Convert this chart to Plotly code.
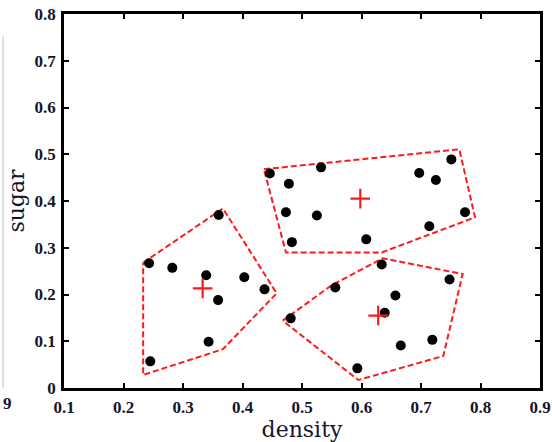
import plotly.graph_objects as go

# ---- data: watermelon 4.0 (density, sugar) by cluster ----
clusterA_density = [0.403, 0.437, 0.243, 0.245, 0.343, 0.360, 0.359, 0.339, 0.282]
clusterA_sugar   = [0.237, 0.211, 0.267, 0.057, 0.099, 0.370, 0.188, 0.241, 0.257]

clusterB_density = [0.697, 0.774, 0.608, 0.714, 0.483, 0.478, 0.525, 0.751, 0.532, 0.473, 0.725, 0.446]
clusterB_sugar   = [0.460, 0.376, 0.318, 0.346, 0.312, 0.437, 0.369, 0.489, 0.472, 0.376, 0.445, 0.459]

clusterC_density = [0.634, 0.556, 0.481, 0.666, 0.639, 0.657, 0.593, 0.719, 0.748]
clusterC_sugar   = [0.264, 0.215, 0.149, 0.091, 0.161, 0.198, 0.042, 0.103, 0.232]

centroid_density = [0.333, 0.598, 0.628]
centroid_sugar   = [0.213, 0.405, 0.155]

# enclosing dashed polygons (vertices)
polyA_density = [0.233, 0.367, 0.4575, 0.367, 0.233, 0.233]
polyA_sugar   = [0.268, 0.384, 0.2026, 0.083, 0.028, 0.268]
polyB_density = [0.436, 0.7644, 0.7908, 0.634, 0.473, 0.436]
polyB_sugar   = [0.468, 0.5106, 0.365, 0.290, 0.290, 0.468]
polyC_density = [0.4676, 0.550, 0.6356, 0.770, 0.7375, 0.5946, 0.4676]
polyC_sugar   = [0.144, 0.220, 0.2774, 0.2439, 0.0684, 0.0171, 0.144]

x_ticks = [0.1, 0.2, 0.3, 0.4, 0.5, 0.6, 0.7, 0.8, 0.9]
x_tick_labels = ["0.1", "0.2", "0.3", "0.4", "0.5", "0.6", "0.7", "0.8", "0.9"]
y_ticks = [0, 0.1, 0.2, 0.3, 0.4, 0.5, 0.6, 0.7, 0.8]
y_tick_labels = ["0", "0.1", "0.2", "0.3", "0.4", "0.5", "0.6", "0.7", "0.8"]

x_title = "density"
y_title = "sugar"

RED = "#ff1a1a"
TXT = "#14142a"

fig = go.Figure()

for px, py in [(polyA_density, polyA_sugar), (polyB_density, polyB_sugar), (polyC_density, polyC_sugar)]:
    fig.add_trace(go.Scatter(x=px, y=py, mode="lines",
                             line=dict(color=RED, width=2, dash="6px,3px"),
                             hoverinfo="skip", showlegend=False))

for dx, sy in [(clusterA_density, clusterA_sugar), (clusterB_density, clusterB_sugar), (clusterC_density, clusterC_sugar)]:
    fig.add_trace(go.Scatter(x=dx, y=sy, mode="markers",
                             marker=dict(size=10, color="black"),
                             showlegend=False))

fig.add_trace(go.Scatter(x=centroid_density, y=centroid_sugar, mode="markers",
                         marker=dict(symbol="cross-thin", size=14,
                                     line=dict(color=RED, width=2.2)),
                         showlegend=False))

tickfont = dict(family="Liberation Serif", size=17, color=TXT, weight=700)
titlefont = dict(family="DejaVu Serif", size=22, color=TXT)

axis_common = dict(showline=True, linewidth=2.5, linecolor="black", mirror="allticks",
                   ticks="inside", ticklen=5, tickwidth=1.5, tickcolor="black",
                   showgrid=False, zeroline=False, tickfont=tickfont, automargin=False)

fig.update_xaxes(range=[0.1, 0.9], tickmode="array", tickvals=x_ticks, ticktext=x_tick_labels,
                 title=dict(text=x_title, font=titlefont, standoff=0),
                 ticklabelstandoff=2, **axis_common)
fig.update_yaxes(range=[0, 0.8], tickmode="array", tickvals=y_ticks, ticktext=y_tick_labels,
                 title=dict(text=y_title, font=titlefont, standoff=4),
                 ticklabelstandoff=2, **axis_common)

fig.update_layout(
    width=552, height=442,
    margin=dict(l=64, r=12, t=14, b=54),
    plot_bgcolor="white", paper_bgcolor="white",
    showlegend=False,
    shapes=[dict(type="line", xref="paper", yref="paper",
                 x0=-0.128, x1=-0.128, y0=0.0, y1=0.94,
                 line=dict(color="#d4d4d4", width=1.5))],
    annotations=[dict(text="9", xref="paper", yref="paper", x=-0.118, y=-0.042,
                      showarrow=False, xanchor="center", yanchor="middle",
                      font=dict(family="Liberation Serif", size=17, color=TXT, weight=700))],
)

fig.write_html("out.html")
